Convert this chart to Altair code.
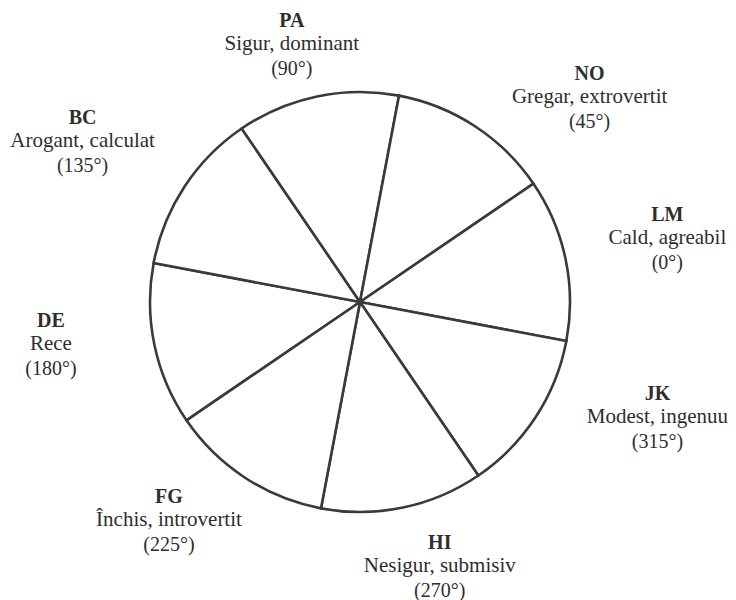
import math
import altair as alt
import pandas as pd

# --- data ---------------------------------------------------------------
codes = ["LM", "NO", "PA", "BC", "DE", "FG", "HI", "JK"]
descriptions = ["Cald, agreabil", "Gregar, extrovertit", "Sigur, dominant",
                "Arogant, calculat", "Rece", "Închis, introvertit",
                "Nesigur, submisiv", "Modest, ingenuu"]
degrees = [0, 45, 90, 135, 180, 225, 270, 315]
slice_share = [1, 1, 1, 1, 1, 1, 1, 1]

# --- layout (label placement around the circle) -------------------------
rotation_deg = 10.7            # whole wheel is turned slightly
label_nudge_deg = [0, 15, -3, -3, 4, 8, -5, -12]
label_radius = [314, 308, 267, 321, 312, 290, 276, 319]

CX, CY, R = 352, 294, 210

wheel = pd.DataFrame({"code": codes, "share": slice_share})

rows = []
for c, d, deg, nud, rad in zip(codes, descriptions, degrees, label_nudge_deg, label_radius):
    compass = (90 + rotation_deg + 22.5 - 45 - deg) + nud   # slice centre, clockwise from north
    rows.append({"code": c, "desc": d, "deglab": f"({deg}°)",
                 "t": math.radians(compass), "r": rad})
labels = pd.DataFrame(rows)

start = math.radians(rotation_deg)
pie = alt.Chart(wheel).mark_arc(
    outerRadius=R, fill="white", stroke="#3a3a3a", strokeWidth=2.6
).encode(
    theta=alt.Theta("share:Q", stack=True,
                    scale=alt.Scale(range=[start, start + 2 * math.pi])),
    detail="code:N",
    x=alt.value(CX), y=alt.value(CY),
)

font = "Liberation Serif"
ink = "#2e2e2e"
base = alt.Chart(labels).encode(
    theta=alt.Theta("t:Q", scale=None),
    radius=alt.Radius("r:Q", scale=None),
    x=alt.value(CX), y=alt.value(CY),
)
head = base.mark_text(font=font, fontSize=20, fontWeight="bold", color=ink,
                      dy=-23, baseline="middle").encode(text="code:N")
desc = base.mark_text(font=font, fontSize=21, color=ink,
                      baseline="middle").encode(text="desc:N")
degl = base.mark_text(font=font, fontSize=20, color=ink,
                      dy=25, baseline="middle").encode(text="deglab:N")

chart = alt.layer(pie, head, desc, degl).properties(
    width=720, height=592, padding=0,
    autosize=alt.AutoSizeParams(type="none"),
).configure_view(stroke=None)

chart.save("out.html", embed_options={"renderer": "svg", "actions": False})
